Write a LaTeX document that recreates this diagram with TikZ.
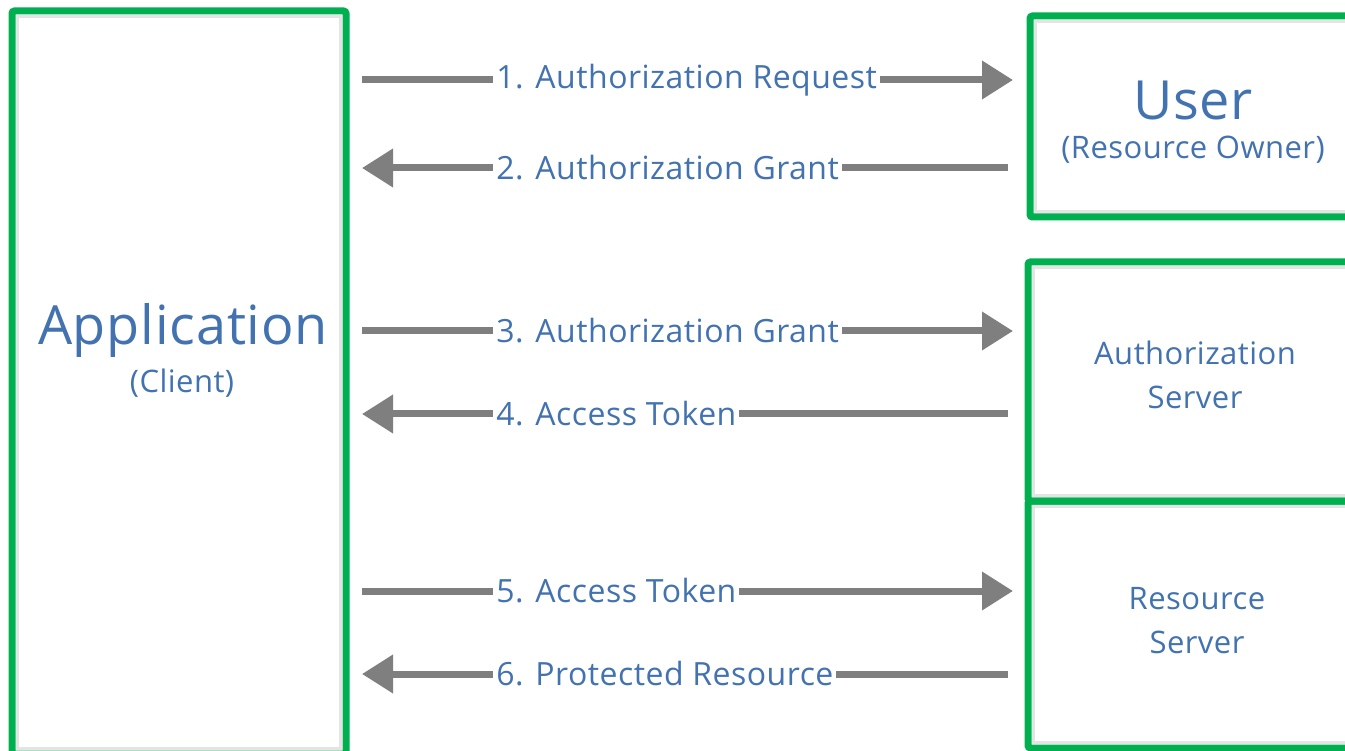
\documentclass[tikz,border=0pt]{standalone}
\usepackage{fontspec}
\setmainfont{Open Sans}[LetterSpace=1.5]
\usetikzlibrary{arrows.meta}
\definecolor{frame}{HTML}{00B050}
\definecolor{arrowgray}{HTML}{7F7F7F}
\definecolor{txtblue}{HTML}{4272B0}
\definecolor{edge}{HTML}{E4E4E4}
\begin{document}
\begin{tikzpicture}[x=1pt,y=-1pt,
  party/.style={draw=frame, line width=7pt, rounded corners=2.5pt,
    inner sep=0pt, outer sep=0pt, minimum width=#1},
  inset/.style={draw=edge, line width=2.5pt},
  msg/.style={draw=arrowgray, line width=7pt},
  fwd/.style={msg, -{Triangle[length=31pt,width=37pt]}},
  lbl/.style={fill=white, text=txtblue, inner sep=3pt, anchor=west,
    font=\fontsize{32}{38}\selectfont},
  big/.style={text=txtblue, inner sep=0pt, font=\fontsize{54}{60}\selectfont},
  small/.style={text=txtblue, inner sep=0pt, align=center,
    font=\fontsize{31}{44}\selectfont}
]
\useasboundingbox (0,0) rectangle (1345,751);
\clip (0,0) rectangle (1345,751);
\fill[white] (0,0) rectangle (1345,751);

% the four parties
\node[party=334pt, minimum height=743pt] (app) at (179,382.5) {};
\node[party=322pt, minimum height=201pt] (user) at (1191,116.5) {};
\node[party=324pt, minimum height=239pt] (auth) at (1190,381.5) {};
\node[party=324pt, minimum height=247pt] (res) at (1190,624.5) {};

% faint inner edge along each frame
\foreach \b in {app,user,auth,res}
  \draw[inset] ([shift={(5.5,5.5)}]\b.north west) rectangle ([shift={(-5.5,-5.5)}]\b.south east);

% party names
\node[big] (appname) at (183,330) {Application};
\node[small] (appsub) at (182,383) {(Client)};
\node[big] (username) at (1193,100) {User};
\node[small] (usersub) at (1193,150) {(Resource Owner)};
\node[small] (authname) at (1195,375) {Authorization\\Server};
\node[small] (resname) at (1197,621) {Resource\\Server};

% message end points
\coordinate (a1) at (362,80);   \coordinate (u1) at (1013,80);
\coordinate (a2) at (362,168);  \coordinate (u2) at (1008,168);
\coordinate (a3) at (362,331);  \coordinate (s3) at (1013,331);
\coordinate (a4) at (362,414);  \coordinate (s4) at (1008,414);
\coordinate (a5) at (362,591);  \coordinate (r5) at (1013,591);
\coordinate (a6) at (362,674);  \coordinate (r6) at (1008,674);

% the six messages
\draw[fwd] (a1) -- node[lbl, pos=0.1966] (m1) {1. Authorization Request} (u1);
\draw[fwd] (u2) -- node[lbl, pos=0.8019] (m2) {2. Authorization Grant} (a2);
\draw[fwd] (a3) -- node[lbl, pos=0.1966] (m3) {3. Authorization Grant} (s3);
\draw[fwd] (s4) -- node[lbl, pos=0.8019] (m4) {4. Access Token} (a4);
\draw[fwd] (a5) -- node[lbl, pos=0.1966] (m5) {5. Access Token} (r5);
\draw[fwd] (r6) -- node[lbl, pos=0.8019] (m6) {6. Protected Resource} (a6);
\end{tikzpicture}
\end{document}
